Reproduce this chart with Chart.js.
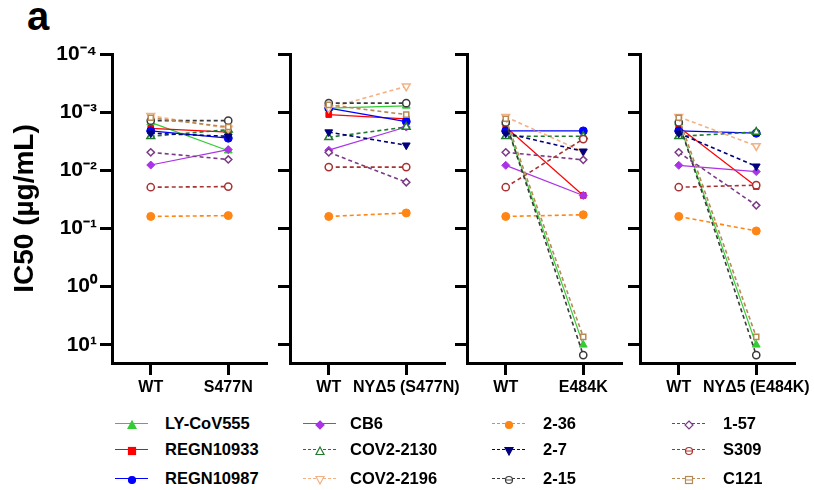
<!DOCTYPE html>
<html><head><meta charset="utf-8">
<script src="https://cdn.jsdelivr.net/npm/chart.js@4.4.1/dist/chart.umd.min.js"></script>
<style>
body{margin:0;background:#fff;width:814px;height:490px;overflow:hidden;position:relative;font-family:"Liberation Sans",Arial,sans-serif;}
canvas{position:absolute;top:0;}
#lbl{position:absolute;left:27px;top:-6px;font:bold 40px "Liberation Sans",Arial,sans-serif;color:#000;}
.lg{position:absolute;height:0;}
.lgline{position:absolute;width:33px;height:0;top:0;}
.lgmk{position:absolute;top:-6px;width:12px;height:12px;}
.lgtx{position:absolute;top:-10px;white-space:nowrap;font:bold 16.5px "Liberation Sans",Arial,sans-serif;color:#000;line-height:20px;}
</style></head>
<body>
<div id="lbl">a</div>
<canvas id="c0" width="280" height="400" style="left:0px"></canvas>
<canvas id="c1" width="190" height="400" style="left:270px"></canvas>
<canvas id="c2" width="184" height="400" style="left:446px"></canvas>
<canvas id="c3" width="194" height="400" style="left:620px"></canvas>
<div id="legend"></div>
<script>
// ---- data ----
const categories0 = ['WT', 'S477N'];
const categories1 = ['WT', 'NYΔ5 (S477N)'];
const categories2 = ['WT', 'E484K'];
const categories3 = ['WT', 'NYΔ5 (E484K)'];
const yTickValues = [1e-4, 1e-3, 1e-2, 1e-1, 1, 10];
const yTickLabels = ['10⁻⁴', '10⁻³', '10⁻²', '10⁻¹', '10⁰', '10¹'];
const seriesNames = ['LY-CoV555','REGN10933','REGN10987','CB6','COV2-2130','COV2-2196','2-36','2-7','2-15','1-57','S309','C121'];
// values per antibody: [S477N panel WT, mut, NYΔ5(S477N) WT, mut, E484K WT, mut, NYΔ5(E484K) WT, mut]
const LY_CoV555 = [1.5e-3, 4.6e-3, 8.5e-4, 7.8e-4, 1.5e-3, 10, 1.5e-3, 10];
const REGN10933 = [1.9e-3, 2.2e-3, 1.1e-3, 1.3e-3, 1.8e-3, 0.027, 1.8e-3, 0.019];
const REGN10987 = [2.1e-3, 2.8e-3, 8.5e-4, 1.45e-3, 2.1e-3, 2.1e-3, 2.1e-3, 2.3e-3];
const CB6 = [8.1e-3, 4.4e-3, 4.5e-3, 1.8e-3, 8.2e-3, 0.027, 8.2e-3, 0.0105];
const COV2_2130 = [2.6e-3, 2.0e-3, 2.7e-3, 1.8e-3, 2.6e-3, 2.6e-3, 2.6e-3, 2.2e-3];
const COV2_2196 = [1.15e-3, 1.9e-3, 8.5e-4, 3.6e-4, 1.2e-3, 4.8e-3, 1.2e-3, 3.8e-3];
const AB_2_36 = [0.062, 0.060, 0.062, 0.054, 0.062, 0.058, 0.062, 0.11];
const AB_2_7 = [2.3e-3, 2.6e-3, 2.2e-3, 3.7e-3, 2.3e-3, 4.7e-3, 2.3e-3, 8.5e-3];
const AB_2_15 = [1.4e-3, 1.4e-3, 7e-4, 7e-4, 1.5e-3, 15, 1.5e-3, 15];
const AB_1_57 = [4.9e-3, 6.5e-3, 4.9e-3, 0.016, 4.9e-3, 6.6e-3, 4.9e-3, 0.040];
const S309 = [0.0195, 0.019, 8.8e-3, 8.8e-3, 0.0195, 2.9e-3, 0.0195, 0.018];
const C121 = [1.25e-3, 1.8e-3, 7.5e-4, 1.1e-3, 1.3e-3, 7.3, 1.25e-3, 7.3];

// ---- styles ----
const seriesValues = [LY_CoV555, REGN10933, REGN10987, CB6, COV2_2130, COV2_2196, AB_2_36, AB_2_7, AB_2_15, AB_1_57, S309, C121];
const styles = [
  {color:'#33CC33', dash:false, shape:'triangle', fill:true, rot:0},
  {color:'#FF0000', dash:false, shape:'rect', fill:true, rot:0},
  {color:'#0000FF', dash:false, shape:'circle', fill:true, rot:0},
  {color:'#AA33E6', dash:false, shape:'rectRot', fill:true, rot:0},
  {color:'#1F7A2E', dash:true, shape:'triangle', fill:false, rot:0},
  {color:'#F4B183', dash:true, shape:'triangle', fill:false, rot:180},
  {color:'#FF8514', dash:true, shape:'circle', fill:true, rot:0},
  {color:'#00007F', dash:true, shape:'triangle', fill:true, rot:180},
  {color:'#3A3A3A', dash:true, shape:'circle', fill:false, rot:0},
  {color:'#7A3A86', dash:true, shape:'rectRot', fill:false, rot:0},
  {color:'#A83232', dash:true, shape:'circle', fill:false, rot:0},
  {color:'#B58A55', dash:true, shape:'rect', fill:false, rot:0}
];
const FONT = '"Liberation Sans", Arial, sans-serif';
const panelCats = [categories0, categories1, categories2, categories3];
const panelGeom = [
  {id:'c0', yw:112, rp:13},
  {id:'c1', yw:20, rp:15},
  {id:'c2', yw:21, rp:8},
  {id:'c3', yw:20, rp:19}
];
const labelFor = v => {
  const e = Math.round(Math.log10(v));
  const i = yTickValues.findIndex(t => Math.round(Math.log10(t)) === e);
  return i >= 0 ? yTickLabels[i] : '';
};

panelGeom.forEach((g, p) => {
  const datasets = seriesNames.map((name, k) => {
    const s = styles[k];
    const r = s.shape === 'rect' ? (s.fill ? 4 : 3.6) : (s.shape === 'triangle' ? 4.5 : (s.fill ? 4 : 3.6));
    return {
      label: name,
      data: seriesValues[k].slice(2*p, 2*p+2),
      borderColor: s.color,
      backgroundColor: s.fill ? s.color : '#fff',
      borderWidth: s.dash ? 1.6 : 1.2,
      borderDash: s.dash ? [4, 3] : [],
      pointStyle: s.shape,
      rotation: s.rot,
      pointRotation: s.rot,
      pointRadius: r,
      pointBorderColor: s.color,
      pointBackgroundColor: s.fill ? s.color : '#fff',
      pointBorderWidth: s.fill ? 1 : 1.5,
      tension: 0,
      fill: false,
      order: 12 - k
    };
  });
  new Chart(document.getElementById(g.id), {
    type: 'line',
    data: { labels: panelCats[p], datasets },
    options: {
      responsive: false,
      animation: false,
      events: [],
      layout: { padding: { top: 54, right: g.rp, left: 0, bottom: 0 } },
      plugins: { legend: { display: false }, tooltip: { enabled: false }, title: { display: false } },
      scales: {
        x: {
          type: 'category',
          offset: true,
          grid: { display: true, drawOnChartArea: false, drawTicks: true, tickLength: 12, tickWidth: 3, tickColor: '#000', color: '#000', offset: false },
          border: { display: true, width: 3, color: '#000' },
          ticks: { color: '#000', font: { family: FONT, size: 16, weight: 'bold' }, maxRotation: 0, minRotation: 0, autoSkip: false, padding: 3 },
          afterFit: s => { s.height = 37; s.paddingLeft = 0; s.paddingRight = 0; }
        },
        y: {
          type: 'logarithmic',
          reverse: true,
          min: 1e-4,
          max: 20.5,
          afterBuildTicks: s => { s.ticks = yTickValues.map(v => ({ value: v, major: true })); },
          grid: { display: true, drawOnChartArea: false, drawTicks: true, tickLength: 12, tickWidth: 3, tickColor: '#000', color: '#000' },
          border: { display: true, width: 3, color: '#000' },
          ticks: { display: p === 0, color: '#000', font: { family: FONT, size: 21, weight: 'bold' }, padding: 3, autoSkip: false, callback: v => labelFor(v) },
          title: { display: p === 0, text: 'IC50 (µg/mL)', color: '#000', font: { family: FONT, size: 28, weight: 'bold' }, padding: { top: 8, bottom: 0 } },
          afterFit: s => { s.width = g.yw; s.paddingTop = 0; s.paddingBottom = 0; }
        }
      }
    }
  });
});

// ---- legend (HTML) ----
const lgCols = [{lx:115, tx:165}, {lx:303, tx:350}, {lx:492, tx:543}, {lx:672, tx:723}];
const lgRows = [423, 449, 478];
function markerSVG(s) {
  const f = s.fill ? s.color : '#fff';
  let shape = '';
  if (s.shape === 'triangle' && s.rot === 0) shape = `<polygon points="6,2 10,9.5 2,9.5" fill="${f}" stroke="${s.color}" stroke-width="1.2"/>`;
  else if (s.shape === 'triangle') shape = `<polygon points="2,2.5 10,2.5 6,10" fill="${f}" stroke="${s.color}" stroke-width="1.2"/>`;
  else if (s.shape === 'rect') shape = `<rect x="2.5" y="2.5" width="7" height="7" fill="${f}" stroke="${s.color}" stroke-width="1.2"/>` + (s.fill ? '' : `<line x1="3" y1="6" x2="9" y2="6" stroke="${s.color}" stroke-width="1"/>`);
  else if (s.shape === 'circle') shape = `<circle cx="6" cy="6" r="3.5" fill="${f}" stroke="${s.color}" stroke-width="1.2"/>` + (s.fill ? '' : `<line x1="3" y1="6" x2="9" y2="6" stroke="${s.color}" stroke-width="1"/>`);
  else shape = `<polygon points="6,2 10,6 6,10 2,6" fill="${f}" stroke="${s.color}" stroke-width="1.2"/>`;
  return `<svg width="12" height="12" viewBox="0 0 12 12">${shape}</svg>`;
}
const lg = document.getElementById('legend');
seriesNames.forEach((name, k) => {
  const s = styles[k];
  const c = lgCols[Math.floor(k / 3)], y = lgRows[k % 3];
  const d = document.createElement('div');
  d.className = 'lg';
  d.style.left = '0px'; d.style.top = y + 'px';
  d.innerHTML =
    `<div class="lgline" style="left:${c.lx}px;border-top:${s.dash ? 1.6 : 1.4}px ${s.dash ? 'dashed' : 'solid'} ${s.color};"></div>` +
    `<div class="lgmk" style="left:${c.lx + 10.5}px">${markerSVG(s)}</div>` +
    `<div class="lgtx" style="left:${c.tx}px">${name}</div>`;
  lg.appendChild(d);
});
</script>
</body></html>
